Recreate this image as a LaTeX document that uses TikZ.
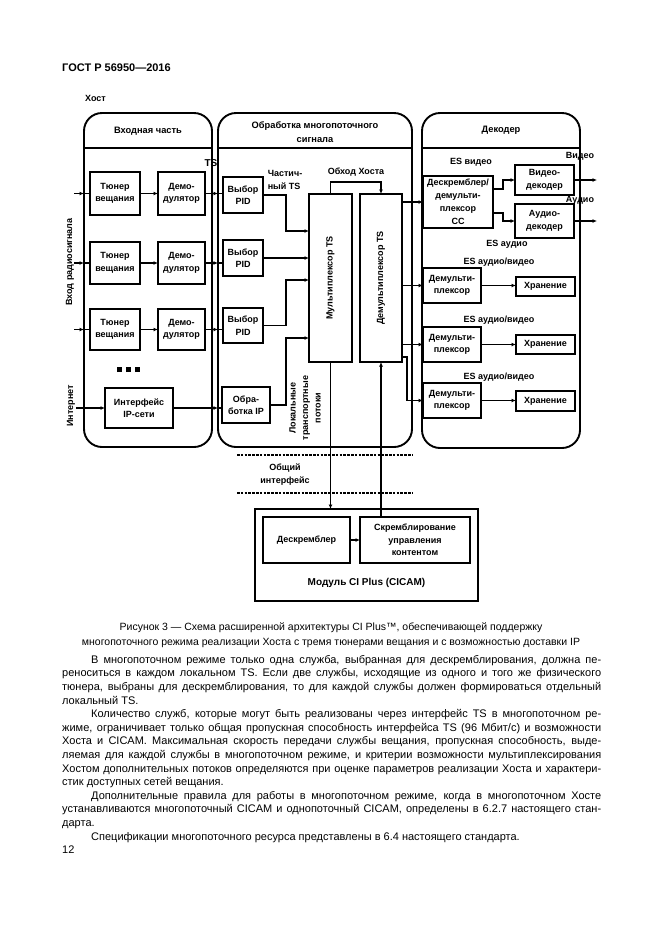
\documentclass[tikz,border=0pt]{standalone}
\usepackage{fontspec}
\setmainfont{Liberation Sans}
\usetikzlibrary{arrows.meta,calc}
\newcommand\jline[1]{\hbox to\hsize{#1}}
\newcommand\lline[1]{\hbox{#1}}
\newcommand\iline[1]{\hbox to\hsize{\hskip29pt #1}}
\newcommand\ilast[1]{\hbox{\hskip29pt #1}}
\newcommand\dg{\fontsize{9}{12.5}\selectfont\bfseries}
\newcommand\dgt{\fontsize{9.3}{14.5}\selectfont\bfseries}
\begin{document}
\begin{tikzpicture}[x=1pt,y=-1pt,
  panel/.style={draw, line width=1.9pt, rounded corners=18pt, inner sep=0pt, outer sep=0pt},
  blk/.style={draw, line width=1.5pt, align=center, font=\dg, inner sep=0pt, outer sep=0pt},
  lbl/.style={align=center, font=\dg, inner sep=0pt},
  conn/.style={line width=1.3pt},
  arr/.style={conn, -{Latex[length=4.5pt,width=4pt]}},
  sep/.style={line width=1.6pt},
  dotln/.style={line width=2pt, dash pattern=on 2.5pt off 1.3pt}]
\useasboundingbox (0,0) rectangle (661,935);
\fill[white] (0,0) rectangle (661,935);

% header
\node[anchor=west, inner sep=0, font=\fontsize{11}{13}\selectfont\bfseries] (hdr) at (62,68) {ГОСТ Р 56950—2016};
\node[anchor=west, inner sep=0, font=\dg] (host) at (85,98) {Хост};

% panels
\node[panel, minimum width=128, minimum height=334] (inpanel) at (148,280) {};
\node[panel, minimum width=194, minimum height=334] (midpanel) at (315,280) {};
\node[panel, minimum width=158, minimum height=335] (decpanel) at (501,280.5) {};
\draw[sep] (inpanel.west |- 0,148) -- (inpanel.east |- 0,148);
\draw[sep] (midpanel.west |- 0,148) -- (midpanel.east |- 0,148);
\draw[sep] (decpanel.west |- 0,148) -- (decpanel.east |- 0,148);
\node[lbl, font=\dgt] (intitle) at (148,131) {Входная часть};
\node[lbl, font=\dgt] (midtitle) at (315,132) {Обработка многопоточного\\сигнала};
\node[lbl, font=\dgt] (dectitle) at (501,130) {Декодер};

% input part
\node[blk, minimum width=50, minimum height=43] (tun1) at (115,193.5) {Тюнер\\вещания};
\node[blk, minimum width=47, minimum height=43] (dem1) at (181.5,193.5) {Демо-\\дулятор};
\node[blk, minimum width=50, minimum height=42] (tun2) at (115,263) {Тюнер\\вещания};
\node[blk, minimum width=47, minimum height=42] (dem2) at (181.5,263) {Демо-\\дулятор};
\node[blk, minimum width=50, minimum height=41] (tun3) at (115,329.5) {Тюнер\\вещания};
\node[blk, minimum width=47, minimum height=41] (dem3) at (181.5,329.5) {Демо-\\дулятор};
\node[blk, minimum width=68, minimum height=40] (ipif) at (139,408) {Интерфейс\\IP-сети};
\node[inner sep=0] (dots) at (128,369.5) {\rule{5pt}{5pt}\hspace{4pt}\rule{5pt}{5pt}\hspace{4pt}\rule{5pt}{5pt}};
\node[lbl, rotate=90] (radio) at (70,262) {Вход радиосигнала};
\node[lbl, rotate=90] (inet) at (71,406) {Интернет};
\node[lbl, font=\fontsize{10}{12}\selectfont\bfseries] (tslbl) at (211,163) {TS};

% multi-stream processing
\node[blk, minimum width=40, minimum height=36] (pid1) at (243,195) {Выбор\\PID};
\node[blk, minimum width=40, minimum height=36] (pid2) at (243,258) {Выбор\\PID};
\node[blk, minimum width=40, minimum height=35] (pid3) at (243,325.5) {Выбор\\PID};
\node[blk, minimum width=48, minimum height=36] (ipproc) at (246,405) {Обра-\\ботка IP};
\node[blk, minimum width=43, minimum height=168] (mux) at (330.5,278) {};
\node[blk, minimum width=42, minimum height=168] (demux) at (381,278) {};
\node[lbl, rotate=90] (muxlbl) at (mux.center) {Мультиплексор TS};
\node[lbl, rotate=90] (demuxlbl) at (demux.center) {Демультиплексор TS};
\node[lbl, align=left] (partts) at (285,180) {Частич-\\ный TS};
\node[lbl] (bypass) at (356,172) {Обход Хоста};
\node[lbl, rotate=90] (localts) at (305,408) {Локальные\\транспортные\\потоки};

% decoder
\node[blk, minimum width=70, minimum height=52, font=\fontsize{9}{13}\selectfont\bfseries] (descc) at (458,202) {Дескремблер/\\демульти-\\плексор\\CC};
\node[blk, minimum width=59, minimum height=30] (vdec) at (544.5,180) {Видео-\\декодер};
\node[blk, minimum width=59, minimum height=34] (adec) at (544.5,221) {Аудио-\\декодер};
\node[blk, minimum width=58, minimum height=35] (dmx1) at (452,285.5) {Демульти-\\плексор};
\node[blk, minimum width=58, minimum height=35] (dmx2) at (452,344.5) {Демульти-\\плексор};
\node[blk, minimum width=58, minimum height=35] (dmx3) at (452,400.5) {Демульти-\\плексор};
\node[blk, minimum width=59, minimum height=19] (st1) at (545.5,286.5) {Хранение};
\node[blk, minimum width=59, minimum height=19] (st2) at (545.5,344.5) {Хранение};
\node[blk, minimum width=59, minimum height=20] (st3) at (545.5,401) {Хранение};
\node[lbl] (esv) at (471,162) {ES видео};
\node[lbl] (vout) at (580,156) {Видео};
\node[lbl] (aout) at (580,200) {Аудио};
\node[lbl] (esa) at (507,244) {ES аудио};
\node[lbl] (esav1) at (499,262) {ES аудио/видео};
\node[lbl] (esav2) at (499,320) {ES аудио/видео};
\node[lbl] (esav3) at (499,377) {ES аудио/видео};

% common interface
\draw[dotln] (237,455) -- (413,455);
\draw[dotln] (237,493) -- (413,493);
\node[lbl] (ci) at (285,474.5) {Общий\\интерфейс};

% CICAM
\node[blk, minimum width=223, minimum height=92] (module) at (366.5,555) {};
\node[blk, minimum width=87, minimum height=46] (descr) at (306.5,540) {Дескремблер};
\node[blk, minimum width=110, minimum height=46] (scr) at (415,540) {Скремблирование\\управления\\контентом};
\node[lbl, font=\fontsize{10}{12}\selectfont\bfseries] (modlbl) at (366.5,583) {Модуль CI Plus (CICAM)};

% connectors: inputs
\foreach \t in {tun1,tun2,tun3}{
  \coordinate (src\t) at ($(inpanel.west |- \t.west)+(-10,0)$);
  \draw[arr] (src\t) -- (inpanel.west |- \t.west);
  \draw[conn] (inpanel.west |- \t.west) -- (\t.west);
}
\coordinate (srcip) at ($(inpanel.west |- ipif.west)+(-8,0)$);
\draw[arr] (srcip) -- (ipif.west);
\draw[arr] (tun1) -- (dem1);
\draw[arr] (tun2) -- (dem2);
\draw[arr] (tun3) -- (dem3);
\draw[arr] (dem1.east) -- (midpanel.west |- dem1.east);
\draw[conn] (midpanel.west |- dem1.east) -- (pid1.west |- dem1.east);
\draw[arr] (dem2.east) -- (midpanel.west |- dem2.east);
\draw[conn] (midpanel.west |- dem2.east) -- (pid2.west |- dem2.east);
\draw[arr] (dem3.east) -- (midpanel.west |- dem3.east);
\draw[conn] (midpanel.west |- dem3.east) -- (pid3.west |- dem3.east);
\draw[arr] (ipif.east) -- (midpanel.west |- ipif.east);
\draw[conn] (midpanel.west |- ipif.east) -- (ipproc.west |- ipif.east);

% PID -> mux
\draw[arr] (pid1.east) -- (286,195) |- (mux.west |- 0,231);
\draw[arr] (pid2.east) -- (mux.west |- pid2.east);
\draw[arr] (pid3.east) -- (286,325.5) |- (mux.west |- 0,280);
\draw[arr] (ipproc.east) -- (286,405) |- (mux.west |- 0,338);

% bypass
\draw[arr] (mux.north) -- ++(0,-12) -| (demux.north);

% mux/demux <-> CICAM
\draw[arr] (mux.south) -- (module.north -| mux.south);
\draw[arr] (scr.north -| demux.south) -- (demux.south);
\draw[arr] (descr.east) -- (scr.west);

% demux -> decoder
\draw[arr] (demux.east |- descc.west) -- (descc.west);
\draw[arr] (demux.east |- dmx1.west) -- (dmx1.west);
\draw[arr] (demux.east |- dmx2.west) -- (dmx2.west);
\draw[arr] (demux.east |- 0,357) -- (407,357) |- (dmx3.west);
\draw[arr] (descc.east |- 0,189) -- (503,189) |- (vdec.west);
\draw[arr] (descc.east |- 0,213) -- (503,213) |- (adec.west);
\coordinate (vend) at (597,180);
\coordinate (aend) at (597,221);
\draw[arr] (vdec.east) -- (vend);
\draw[arr] (adec.east) -- (aend);
\draw[arr] (dmx1) -- (st1.west |- dmx1.east);
\draw[arr] (dmx2) -- (st2.west |- dmx2.east);
\draw[arr] (dmx3) -- (st3.west |- dmx3.east);

% caption
\node[align=center, inner sep=0, font=\fontsize{10.5}{14.5}\selectfont] (cap) at (331,635) {Рисунок 3 — Схема расширенной архитектуры CI Plus™, обеспечивающей поддержку\\многопоточного режима реализации Хоста с тремя тюнерами вещания и с возможностью доставки IP};

% body text
\node[anchor=north west, inner sep=0] (body) at (62,655) {\parbox[t]{539pt}{\fontsize{11}{13.6}\selectfont
\iline{В многопоточном режиме только одна служба, выбранная для дескремблирования, должна пе-}
\jline{реноситься в каждом локальном TS. Если две службы, исходящие из одного и того же физического}
\jline{тюнера, выбраны для дескремблирования, то для каждой службы должен формироваться отдельный}
\lline{локальный TS.}
\iline{Количество служб, которые могут быть реализованы через интерфейс TS в многопоточном ре-}
\jline{жиме, ограничивает только общая пропускная способность интерфейса TS (96 Мбит/с) и возможности}
\jline{Хоста и CICAM. Максимальная скорость передачи службы вещания, пропускная способность, выде-}
\jline{ляемая для каждой службы в многопоточном режиме, и критерии возможности мультиплексирования}
\jline{Хостом дополнительных потоков определяются при оценке параметров реализации Хоста и характери-}
\lline{стик доступных сетей вещания.}
\iline{Дополнительные правила для работы в многопоточном режиме, когда в многопоточном Хосте}
\jline{устанавливаются многопоточный CICAM и однопоточный CICAM, определены в 6.2.7 настоящего стан-}
\lline{дарта.}
\ilast{Спецификации многопоточного ресурса представлены в 6.4 настоящего стандарта.}
}};
\node[anchor=base west, inner sep=0, font=\fontsize{11}{13.6}\selectfont] (pg) at (62,853) {12};
\end{tikzpicture}
\end{document}
